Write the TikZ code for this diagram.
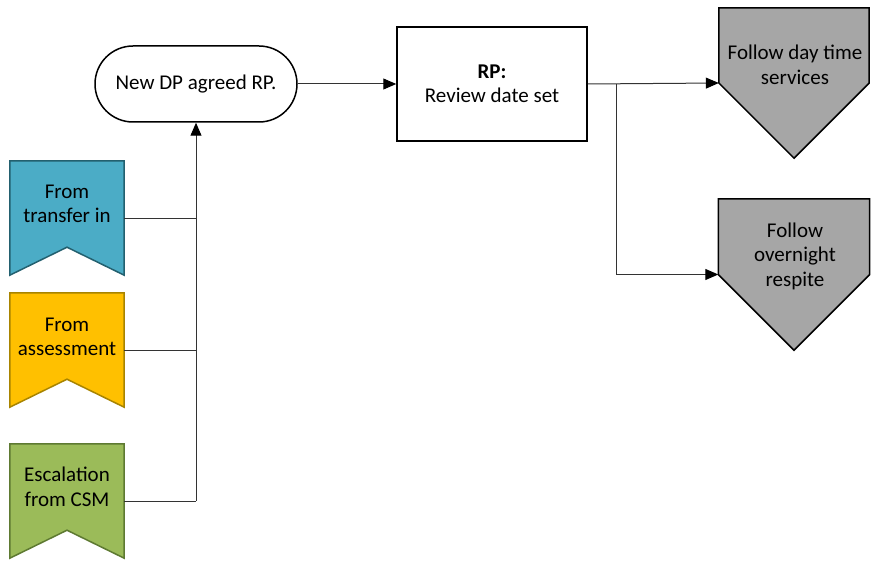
\documentclass[tikz,border=0pt]{standalone}
\usepackage{fontspec}
\setmainfont{Carlito}
\usetikzlibrary{arrows.meta,calc}
\definecolor{bluef}{HTML}{4BACC6}
\definecolor{blued}{HTML}{23606F}
\definecolor{yellf}{HTML}{FFC000}
\definecolor{yelld}{HTML}{A88400}
\definecolor{greenf}{HTML}{9BBB59}
\definecolor{greend}{HTML}{5E7A32}
\definecolor{grayf}{HTML}{A6A6A6}
\begin{document}
\begin{tikzpicture}[x=1pt,y=-1pt,
  wire/.style={draw=black!80, line width=1pt},
  conn/.style={wire, -{Triangle[length=13pt,width=11pt,color=black]}},
  shp/.style={line width=1.5pt, line join=miter},
  lbl/.style={font=\fontsize{21}{24.5}\selectfont, align=center, inner sep=0pt},
  frame/.style={draw=none, inner sep=0pt, minimum width=#1, minimum height=#1},
  frame/.default=114]
\useasboundingbox (0,0) rectangle (872,564);

% banner frames
\node[frame=114] (ti) at (67,218) {};
\node[frame=114] (as) at (67,350) {};
\node[frame=114] (es) at (67,501) {};
\foreach \n/\f/\d in {ti/bluef/blued, as/yellf/yelld, es/greenf/greend}{
  \draw[shp, draw=\d, fill=\f] (\n.north west) -- (\n.north east) -- (\n.south east)
     -- ($(\n.south)+(0,-28)$) -- (\n.south west) -- cycle;
}
\node[lbl] (tiT) at (67,204) {From\\transfer in};
\node[lbl] (asT) at (67,337) {From\\assessment};
\node[lbl] (esT) at (67,487) {Escalation\\from CSM};

% stadium
\node[lbl, draw=black, line width=1.5pt, minimum width=202pt, minimum height=76pt,
      rounded corners=38pt] (stad) at (196,84) {New DP agreed RP.};

% process box
\node[lbl, draw=black, line width=1.5pt, minimum width=190pt, minimum height=114pt]
      (rp) at (492,84) {\textbf{RP:}\\Review date set};

% off-page shapes
\node[frame=150] (day) at (794,83) {};
\node[frame=151] (ngt) at (794,274.5) {};
\foreach \n in {day, ngt}{
  \draw[shp, draw=black, fill=grayf] (\n.north west) -- (\n.north east) -- (\n.east)
     -- (\n.south) -- (\n.west) -- cycle;
}
\node[lbl] (dayT) at (795,65) {Follow day time\\services};
\node[lbl] (ngtT) at (795,256) {Follow\\overnight\\respite};

% connectors
\coordinate (jn) at ($(es.east -| stad.south)$);
\draw[wire] (es.east) -- (jn);
\draw[conn] (jn) -- (stad.south);
\draw[wire] (ti.east) -- (ti.east -| stad.south);
\draw[wire] (as.east) -- (as.east -| stad.south);
\draw[conn] (stad.east) -- (rp.west);
\draw[conn] (rp.east) -- (day.west);
\coordinate (br) at ($(rp.east)+(28.5,0)$);
\draw[conn] (br) |- (ngt.west);
\end{tikzpicture}
\end{document}
